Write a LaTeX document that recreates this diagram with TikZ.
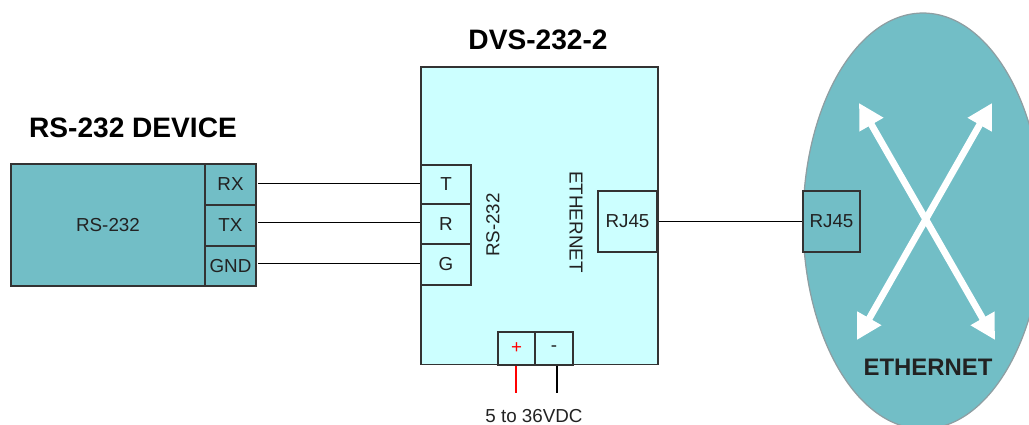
\documentclass[tikz,border=0pt]{standalone}
\usepackage{fontspec}
\setmainfont{Liberation Sans}
\usepackage{xcolor}
\usetikzlibrary{arrows.meta,calc,shapes.geometric}
\definecolor{NetTeal}{HTML}{72BEC6}
\definecolor{ModuleCyan}{HTML}{CCFFFF}
\definecolor{EdgeGray}{HTML}{333333}
\definecolor{CloudEdge}{HTML}{8E9EA2}
\definecolor{TextGray}{HTML}{222222}

\begin{document}
\begin{tikzpicture}[
      x=0.02cm,
      y=-0.02cm,
      font=\fontsize{10.7pt}{12pt}\selectfont,
      text=TextGray,
      tealbox/.style={draw=EdgeGray,fill=NetTeal,line width=0.6pt,inner sep=0pt,minimum width=#1},
      cyanbox/.style={draw=EdgeGray,fill=ModuleCyan,line width=0.6pt,inner sep=0pt,minimum width=#1},
      heading/.style={font=\fontsize{16pt}{18pt}\selectfont\bfseries,text=black},
      wire/.style={line width=0.65pt,draw=black},
      divider/.style={line width=1.1pt,draw=EdgeGray},
      crossarr/.style={<->,>={Triangle[length=0.5cm,width=0.52cm]},line width=0.135cm,draw=white}
    ]
      \useasboundingbox (0,0) rectangle (1029,425);
      % network cloud
      \node[draw=CloudEdge,fill=NetTeal,line width=0.7pt,ellipse,inner sep=0pt,minimum width=4.8cm,minimum height=8.32cm] (cloud) at (923,221) {};
      \coordinate (ul) at (859,103);
      \coordinate (ur) at (992,103);
      \coordinate (ll) at (857,340);
      \coordinate (lr) at (995,340);
      \draw[crossarr] (ul) -- (lr);
      \draw[crossarr] (ur) -- (ll);
      \node[tealbox=1.14cm,minimum height=1.22cm] (netjack) at (831.5,221.5) {RJ45};
      \node[font=\fontsize{13.6pt}{16pt}\selectfont\bfseries] (netname) at (928,367) {ETHERNET};
      % serial device
      \node[heading] (devname) at (133,128) {RS-232 DEVICE};
      \node[tealbox=3.88cm,minimum height=2.44cm] (device) at (108,225) {RS-232};
      \node[tealbox=1.02cm,minimum height=0.82cm] (rx) at (230.5,184.5) {RX};
      \node[tealbox=1.02cm,minimum height=0.82cm] (tx) at (230.5,225.5) {TX};
      \node[tealbox=1.02cm,minimum height=0.8cm] (gnd) at (230.5,266) {GND};
      \draw[divider] (rx.south west) -- (rx.south east);
      \draw[divider] (tx.south west) -- (tx.south east);
      % converter
      \node[heading] (dvsname) at (538,40) {DVS-232-2};
      \node[cyanbox=4.74cm,minimum height=5.96cm] (dvs) at (539.5,216) {};
      \node[cyanbox=1cm,minimum height=0.78cm] (t) at (446,184.5) {T};
      \node[cyanbox=1cm,minimum height=0.8cm] (r) at (446,224) {R};
      \node[cyanbox=1cm,minimum height=0.82cm] (g) at (446,264.5) {G};
      \draw[divider] (r.south west) -- (r.south east);
      \node[rotate=90] (serlabel) at (493,225) {RS-232};
      \node[rotate=-90] (ethlabel) at (576,222) {ETHERNET};
      \node[cyanbox=1.18cm,minimum height=1.22cm] (jack) at (627.5,221.5) {RJ45};
      \draw[divider] (jack.north east) -- (jack.south east);
      \node[cyanbox=0.74cm,minimum height=0.66cm,text=red] (plus) at (516.5,348.5) {+};
      \node[cyanbox=0.76cm,minimum height=0.66cm] (minus) at (554,348.5) {-};
      % wiring
      \coordinate (supplyp) at (516,393);
      \coordinate (supplym) at (557,393);
      \node (supply) at (534,416) {5 to 36VDC};
      \draw[wire,shorten <=1pt] ([yshift=0.8pt]rx.east) -- ([yshift=0.8pt]rx.east -| t.west);
      \draw[wire,shorten <=1pt] ([yshift=1.6pt]tx.east) -- ([yshift=1.6pt]tx.east -| r.west);
      \draw[wire,shorten <=1pt] ([yshift=1.6pt]gnd.east) -- ([yshift=1.6pt]gnd.east -| g.west);
      \draw[wire,shorten <=1pt] (jack.east) -- (netjack.west);
      \draw[wire,draw=red] (plus.south -| supplyp) -- (supplyp);
      \draw[wire] (minus.south -| supplym) -- (supplym);
    \end{tikzpicture}
\end{document}
